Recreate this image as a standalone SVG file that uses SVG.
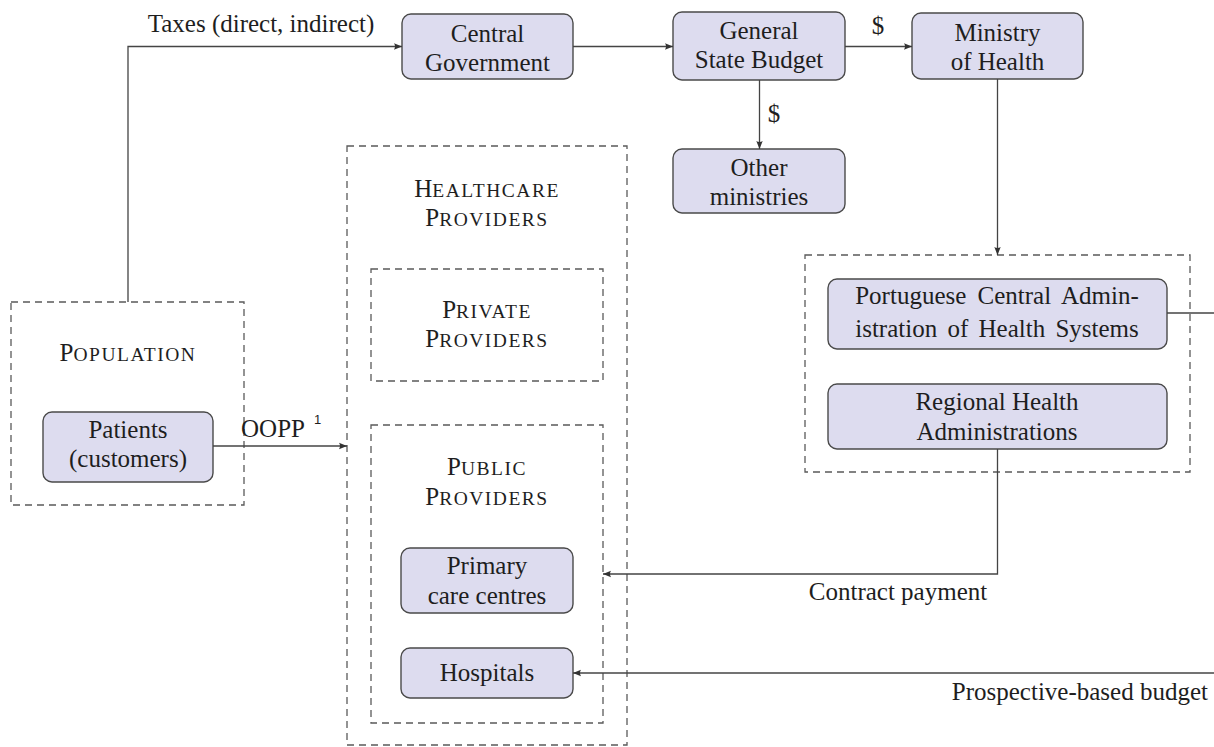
<svg xmlns="http://www.w3.org/2000/svg" width="1214" height="747" viewBox="0 0 1214 747">
<style>
text{font-family:"Liberation Serif","Times New Roman",serif;font-size:25px;fill:#1e1e1e;text-anchor:middle}
.node{fill:#dddcef;stroke:#4a4a4a;stroke-width:1.4}
.group{fill:none;stroke:#5a5a5a;stroke-width:1.3;stroke-dasharray:7,5}
.conn{fill:none;stroke:#444;stroke-width:1.3}
.sc{font-size:19.5px;letter-spacing:1.5px}
.sup{font-family:"Liberation Sans",Arial,sans-serif;font-size:13px;text-anchor:start}
</style>
<defs>
<marker id="arr" markerUnits="userSpaceOnUse" markerWidth="9" markerHeight="8" refX="8" refY="4" orient="auto">
<path d="M0,0.8 L8,4 L0,7.2 Q2,4 0,0.8 z" fill="#333"/>
</marker>
</defs>
<rect width="1214" height="747" fill="#fff"/>

<g id="population">
<rect class="group" x="11" y="302" width="233" height="203"/>
<text x="128" y="361">P<tspan class="sc">OPULATION</tspan></text>
</g>
<g id="patients">
<rect class="node" x="43" y="412" width="170" height="70" rx="9"/>
<text x="128" y="438">Patients</text>
<text x="128" y="467">(customers)</text>
</g>

<g id="central-government">
<rect class="node" x="402" y="14" width="171" height="65" rx="9"/>
<text x="487.5" y="42">Central</text>
<text x="487.5" y="71">Government</text>
</g>
<g id="general-state-budget">
<rect class="node" x="673" y="12" width="172" height="68" rx="9"/>
<text x="759" y="39">General</text>
<text x="759" y="68">State Budget</text>
</g>
<g id="ministry-of-health">
<rect class="node" x="912" y="13" width="171" height="66" rx="9"/>
<text x="997.5" y="41">Ministry</text>
<text x="997.5" y="70">of Health</text>
</g>
<g id="other-ministries">
<rect class="node" x="673" y="149" width="172" height="64" rx="9"/>
<text x="759" y="176">Other</text>
<text x="759" y="205">ministries</text>
</g>

<g id="healthcare-providers">
<rect class="group" x="347" y="146" width="280" height="599"/>
<text x="487" y="197">H<tspan class="sc">EALTHCARE</tspan></text>
<text x="487" y="226">P<tspan class="sc">ROVIDERS</tspan></text>
</g>
<g id="private-providers">
<rect class="group" x="371" y="269" width="232" height="112"/>
<text x="487" y="318">P<tspan class="sc">RIVATE</tspan></text>
<text x="487" y="347">P<tspan class="sc">ROVIDERS</tspan></text>
</g>
<g id="public-providers">
<rect class="group" x="371" y="425" width="232" height="298"/>
<text x="487" y="475">P<tspan class="sc">UBLIC</tspan></text>
<text x="487" y="505">P<tspan class="sc">ROVIDERS</tspan></text>
</g>
<g id="primary-care-centres">
<rect class="node" x="401" y="548" width="172" height="65" rx="9"/>
<text x="487" y="574">Primary</text>
<text x="487" y="604">care centres</text>
</g>
<g id="hospitals">
<rect class="node" x="401" y="648" width="172" height="50" rx="9"/>
<text x="487" y="681">Hospitals</text>
</g>

<g id="administration">
<rect class="group" x="805" y="255" width="385" height="217"/>
</g>
<g id="portuguese-central-administration">
<rect class="node" x="828" y="279" width="339" height="70" rx="9"/>
<text x="997" y="304" word-spacing="5">Portuguese Central Admin-</text>
<text x="997" y="337" word-spacing="4">istration of Health Systems</text>
</g>
<g id="regional-health-administrations">
<rect class="node" x="828" y="384" width="339" height="65" rx="9"/>
<text x="997" y="410">Regional Health</text>
<text x="997" y="440">Administrations</text>
</g>

<g id="connectors">
<path class="conn" d="M128,302 V46.5 H402" marker-end="url(#arr)"/>
<path class="conn" d="M573,46.5 H673" marker-end="url(#arr)"/>
<path class="conn" d="M845,46.5 H912" marker-end="url(#arr)"/>
<path class="conn" d="M759.5,80 V149" marker-end="url(#arr)"/>
<path class="conn" d="M997.5,79 V255" marker-end="url(#arr)"/>
<path class="conn" d="M213,446 H347" marker-end="url(#arr)"/>
<path class="conn" d="M997.5,449 V574 H603" marker-end="url(#arr)"/>
<path class="conn" d="M1167,313 H1214"/>
<path class="conn" d="M1214,673 H573" marker-end="url(#arr)"/>
<text x="261" y="32">Taxes (direct, indirect)</text>
<text x="878" y="34">$</text>
<text x="774" y="122">$</text>
<text x="273" y="437">OOPP</text>
<text class="sup" x="314" y="424">1</text>
<text x="898" y="600">Contract payment</text>
<text x="1208" y="700" style="text-anchor:end">Prospective-based budget</text>
</g>
</svg>
